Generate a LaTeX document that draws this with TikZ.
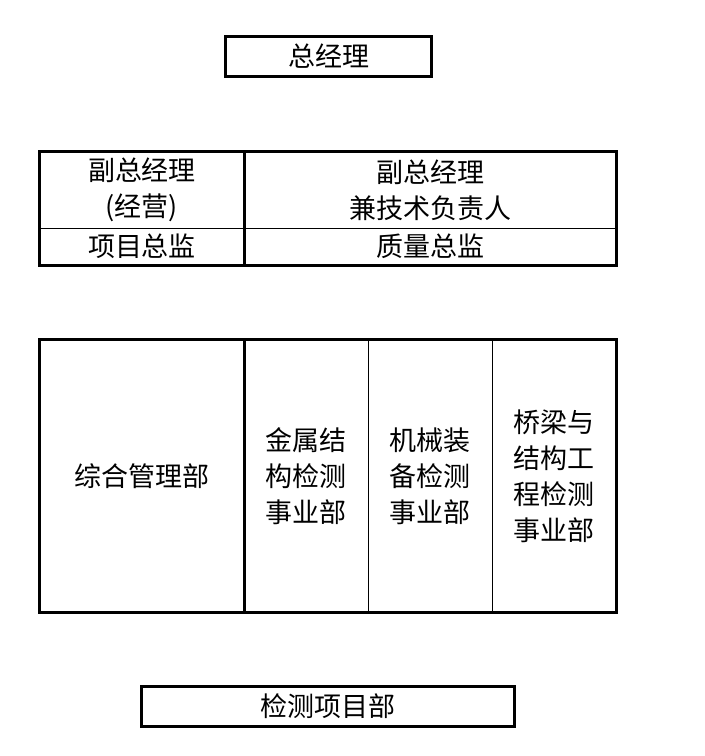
\documentclass[tikz,border=0pt]{standalone}
\usepackage{fontspec}
\newfontfamily\cjk{Noto Sans CJK SC}
\begin{document}
\begin{tikzpicture}[
        x=1pt, y=-1pt,
        font=\cjk\fontsize{27}{36}\selectfont
    ]
    \tikzset{
        cellbox/.style = {rectangle, draw=black, line width=1pt, align=center, inner sep=0pt},
        framebox/.style = {line width=3pt},
    }
    \useasboundingbox (0,0) rectangle (705,756);
    % top
    \node[cellbox,minimum width=205pt,minimum height=39pt] (gm) at (328.5,56.5) {总经理};
    % middle table
    \node[cellbox,minimum width=204pt,minimum height=76pt] (vpa) at (142,190) {副总经理\\(经营)};
    \node[cellbox,minimum width=372pt,minimum height=76pt] (vpb) at (430,190) {副总经理\\兼技术负责人};
    \node[cellbox,minimum width=204pt,minimum height=37pt] (pd) at (142,246.5) {项目总监};
    \node[cellbox,minimum width=372pt,minimum height=37pt] (qd) at (430,246.5) {质量总监};
    \draw[framebox] (vpa.north west) rectangle (qd.south east);
    \draw[framebox] (vpa.north east) -- (pd.south east);
    % departments
    \node[cellbox,minimum width=204pt,minimum height=272pt] (dep0) at (142,476) {综合管理部};
    \node[cellbox,minimum width=124pt,minimum height=272pt] (dep1) at (306,476) {金属结\\构检测\\事业部};
    \node[cellbox,minimum width=124pt,minimum height=272pt] (dep2) at (430,476) {机械装\\备检测\\事业部};
    \node[cellbox,minimum width=124pt,minimum height=272pt] (dep3) at (554,476) {桥梁与\\结构工\\程检测\\事业部};
    \draw[framebox] (dep0.north west) rectangle (dep3.south east);
    \draw[framebox] (dep0.north east) -- (dep0.south east);
    % bottom
    \node[cellbox,minimum width=372pt,minimum height=39pt] (pj) at (328,706.5) {检测项目部};
    \draw[framebox] (gm.north west) rectangle (gm.south east);
    \draw[framebox] (pj.north west) rectangle (pj.south east);
\end{tikzpicture}
\end{document}
